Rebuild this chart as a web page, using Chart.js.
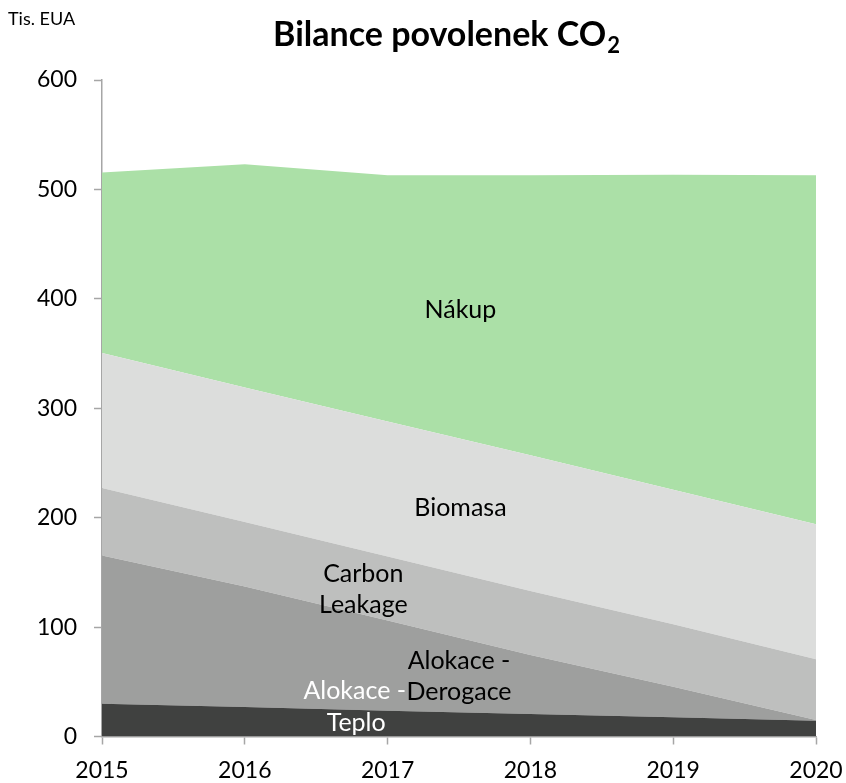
<!DOCTYPE html>
<html>
<head>
<meta charset="utf-8">
<script src="https://cdn.jsdelivr.net/npm/chart.js@4.4.1/dist/chart.umd.min.js"></script>
<style>
  html, body { margin: 0; padding: 0; background: #fff; }
  canvas { display: block; }
</style>
</head>
<body>
<canvas id="bilance" width="846" height="783"></canvas>
<script>
// data (tis. EUA), stacked bottom -> top
var years      = ['2015', '2016', '2017', '2018', '2019', '2020'];
var teplo      = [30, 27, 23.5, 20.5, 17.5, 14.5];
var derogace   = [135.5, 110, 82.5, 54, 28, 0.5];
var leakage    = [61.5, 59, 58.5, 58.5, 57, 55.5];
var biomasa    = [123.5, 123, 123.5, 124, 123, 123.5];
var nakup      = [165, 204, 225, 256, 288, 319];
var yTicks     = [0, 100, 200, 300, 400, 500, 600];

var FONT = 'Lato, "Noto Sans", sans-serif';
var AXIS = '#a6a6a6';

// labels inside the areas: [text, x index, y value, colour]
var areaLabels = [
    ['Nákup',     2.51, 390,  '#000'],
    ['Biomasa',   2.51, 209,  '#000'],
    ['Carbon',    1.83, 149,  '#000'],
    ['Leakage',   1.83, 120,  '#000'],
    ['Alokace -', 2.50, 69,   '#000'],
    ['Derogace',  2.50, 40.5, '#000'],
    ['Alokace -', 1.77, 41.5, '#fff'],
    ['Teplo',     1.78, 12.3, '#fff']
];

var labelPlugin = {
    id: 'labels',
    afterDatasetsDraw: function(chart) {
        var ctx = chart.ctx;
        var xs = chart.scales.x, ys = chart.scales.y;
        ctx.save();
        ctx.font = '25px ' + FONT;
        ctx.textAlign = 'center';
        ctx.textBaseline = 'middle';
        areaLabels.forEach(function(l) {
            var i = Math.floor(l[1]);
            var x0 = xs.getPixelForValue(i);
            var x1 = xs.getPixelForValue(i + 1);
            var x = x0 + (x1 - x0) * (l[1] - i);
            ctx.fillStyle = l[3];
            ctx.fillText(l[0], x, ys.getPixelForValue(l[2]));
        });
        ctx.restore();
    },
    afterDraw: function(chart) {
        var ctx = chart.ctx;
        ctx.save();
        // title with subscript
        var main = 'Bilance povolenek CO';
        ctx.font = 'bold 34px ' + FONT;
        var w1 = ctx.measureText(main).width;
        ctx.font = 'bold 22px ' + FONT;
        var w2 = ctx.measureText('2').width;
        var start = 446 - (w1 + w2) / 2;
        ctx.fillStyle = '#000';
        ctx.textBaseline = 'alphabetic';
        ctx.textAlign = 'left';
        ctx.font = 'bold 34px ' + FONT;
        ctx.fillText(main, start, 46);
        ctx.font = 'bold 22px ' + FONT;
        ctx.fillText('2', start + w1 + 1, 53);
        // unit
        ctx.font = '18px ' + FONT;
        ctx.fillText('Tis. EUA', 8, 25);
        ctx.restore();
    }
};

new Chart(document.getElementById('bilance'), {
    type: 'line',
    data: {
        labels: years,
        datasets: [
            { label: 'Teplo',              data: teplo,    backgroundColor: '#404140', fill: 'origin' },
            { label: 'Alokace - Derogace', data: derogace, backgroundColor: '#9e9f9e', fill: '-1' },
            { label: 'Carbon Leakage',     data: leakage,  backgroundColor: '#bebfbe', fill: '-1' },
            { label: 'Biomasa',            data: biomasa,  backgroundColor: '#dcdddc', fill: '-1' },
            { label: 'Nákup',              data: nakup,    backgroundColor: '#abe0a7', fill: '-1' }
        ].map(function(d) {
            d.borderWidth = 0;
            d.pointRadius = 0;
            d.tension = 0;
            return d;
        })
    },
    options: {
        responsive: false,
        animation: false,
        layout: { padding: { top: 80, right: 30, left: 0, bottom: 0 } },
        plugins: {
            legend: { display: false },
            title: { display: false },
            tooltip: { enabled: false }
        },
        scales: {
            x: {
                offset: false,
                grid: { drawOnChartArea: false, color: AXIS, tickLength: 8, tickWidth: 1.5 },
                border: { color: AXIS, width: 1.5 },
                ticks: { color: '#000', font: { family: FONT, size: 23 }, padding: 12, maxRotation: 0 },
                afterFit: function(s) {
                    s.height = 46.5;
                    s.paddingLeft = 0;
                    s.paddingRight = 0;
                }
            },
            y: {
                stacked: true,
                min: 0,
                max: 600,
                afterBuildTicks: function(s) {
                    s.ticks = yTicks.map(function(v) { return { value: v }; });
                },
                grid: { drawOnChartArea: false, color: AXIS, tickLength: 8, tickWidth: 1.5 },
                border: { color: AXIS, width: 1.5 },
                ticks: { color: '#000', font: { family: FONT, size: 23 }, padding: 17 },
                afterFit: function(s) { s.width = 102; }
            }
        }
    },
    plugins: [labelPlugin]
});
</script>
</body>
</html>
